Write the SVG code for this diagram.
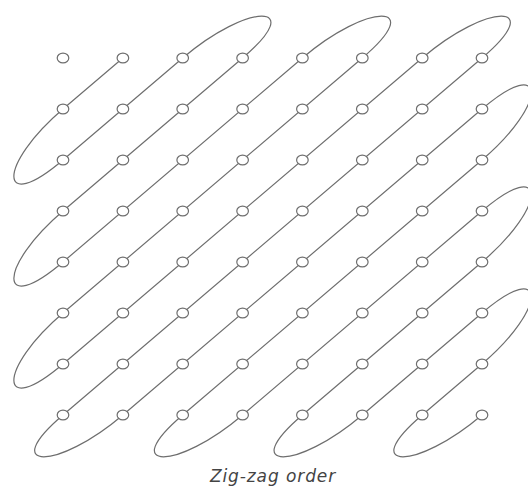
<svg xmlns="http://www.w3.org/2000/svg" width="528" height="487" viewBox="0 0 528 487">
<style>
.c{fill:none;stroke:#6e6e6e;stroke-width:1.2}
.n{fill:#fff;stroke:#6e6e6e;stroke-width:1.2}
.t{font-family:"DejaVu Sans","Open Sans",sans-serif;font-style:italic;font-size:17px;letter-spacing:0.9px;fill:#444}
</style>
<rect width="528" height="487" fill="#fff"/>
<g id="connectors" class="c">
<path d="M122.9,58 L63,109 C-2.5,164.8 -2.5,215.8 63,160 L182.7,58 C248.2,2.2 308.1,2.2 242.6,58 L63,211 C-2.5,266.8 -2.5,317.8 63,262 L302.4,58 C367.9,2.2 427.8,2.2 362.3,58 L63,313 C-2.5,368.8 -2.5,419.8 63,364 L422.2,58 C487.7,2.2 547.5,2.2 482,58 L63,415 C-2.5,470.8 57.4,470.8 122.9,415 L482,109 C547.5,53.2 547.5,104.2 482,160 L182.7,415 C117.2,470.8 177.1,470.8 242.6,415 L482,211 C547.5,155.2 547.5,206.2 482,262 L302.4,415 C236.9,470.8 296.8,470.8 362.3,415 L482,313 C547.5,257.2 547.5,308.2 482,364 L422.2,415 C356.7,470.8 416.5,470.8 482,415"/>
</g>
<g id="nodes" class="n">
<g id="r0"><ellipse cx="63" cy="58" rx="5.8" ry="4.9"/><ellipse cx="122.9" cy="58" rx="5.8" ry="4.9"/><ellipse cx="182.7" cy="58" rx="5.8" ry="4.9"/><ellipse cx="242.6" cy="58" rx="5.8" ry="4.9"/><ellipse cx="302.4" cy="58" rx="5.8" ry="4.9"/><ellipse cx="362.3" cy="58" rx="5.8" ry="4.9"/><ellipse cx="422.2" cy="58" rx="5.8" ry="4.9"/><ellipse cx="482" cy="58" rx="5.8" ry="4.9"/></g>
<g id="r1"><ellipse cx="63" cy="109" rx="5.8" ry="4.9"/><ellipse cx="122.9" cy="109" rx="5.8" ry="4.9"/><ellipse cx="182.7" cy="109" rx="5.8" ry="4.9"/><ellipse cx="242.6" cy="109" rx="5.8" ry="4.9"/><ellipse cx="302.4" cy="109" rx="5.8" ry="4.9"/><ellipse cx="362.3" cy="109" rx="5.8" ry="4.9"/><ellipse cx="422.2" cy="109" rx="5.8" ry="4.9"/><ellipse cx="482" cy="109" rx="5.8" ry="4.9"/></g>
<g id="r2"><ellipse cx="63" cy="160" rx="5.8" ry="4.9"/><ellipse cx="122.9" cy="160" rx="5.8" ry="4.9"/><ellipse cx="182.7" cy="160" rx="5.8" ry="4.9"/><ellipse cx="242.6" cy="160" rx="5.8" ry="4.9"/><ellipse cx="302.4" cy="160" rx="5.8" ry="4.9"/><ellipse cx="362.3" cy="160" rx="5.8" ry="4.9"/><ellipse cx="422.2" cy="160" rx="5.8" ry="4.9"/><ellipse cx="482" cy="160" rx="5.8" ry="4.9"/></g>
<g id="r3"><ellipse cx="63" cy="211" rx="5.8" ry="4.9"/><ellipse cx="122.9" cy="211" rx="5.8" ry="4.9"/><ellipse cx="182.7" cy="211" rx="5.8" ry="4.9"/><ellipse cx="242.6" cy="211" rx="5.8" ry="4.9"/><ellipse cx="302.4" cy="211" rx="5.8" ry="4.9"/><ellipse cx="362.3" cy="211" rx="5.8" ry="4.9"/><ellipse cx="422.2" cy="211" rx="5.8" ry="4.9"/><ellipse cx="482" cy="211" rx="5.8" ry="4.9"/></g>
<g id="r4"><ellipse cx="63" cy="262" rx="5.8" ry="4.9"/><ellipse cx="122.9" cy="262" rx="5.8" ry="4.9"/><ellipse cx="182.7" cy="262" rx="5.8" ry="4.9"/><ellipse cx="242.6" cy="262" rx="5.8" ry="4.9"/><ellipse cx="302.4" cy="262" rx="5.8" ry="4.9"/><ellipse cx="362.3" cy="262" rx="5.8" ry="4.9"/><ellipse cx="422.2" cy="262" rx="5.8" ry="4.9"/><ellipse cx="482" cy="262" rx="5.8" ry="4.9"/></g>
<g id="r5"><ellipse cx="63" cy="313" rx="5.8" ry="4.9"/><ellipse cx="122.9" cy="313" rx="5.8" ry="4.9"/><ellipse cx="182.7" cy="313" rx="5.8" ry="4.9"/><ellipse cx="242.6" cy="313" rx="5.8" ry="4.9"/><ellipse cx="302.4" cy="313" rx="5.8" ry="4.9"/><ellipse cx="362.3" cy="313" rx="5.8" ry="4.9"/><ellipse cx="422.2" cy="313" rx="5.8" ry="4.9"/><ellipse cx="482" cy="313" rx="5.8" ry="4.9"/></g>
<g id="r6"><ellipse cx="63" cy="364" rx="5.8" ry="4.9"/><ellipse cx="122.9" cy="364" rx="5.8" ry="4.9"/><ellipse cx="182.7" cy="364" rx="5.8" ry="4.9"/><ellipse cx="242.6" cy="364" rx="5.8" ry="4.9"/><ellipse cx="302.4" cy="364" rx="5.8" ry="4.9"/><ellipse cx="362.3" cy="364" rx="5.8" ry="4.9"/><ellipse cx="422.2" cy="364" rx="5.8" ry="4.9"/><ellipse cx="482" cy="364" rx="5.8" ry="4.9"/></g>
<g id="r7"><ellipse cx="63" cy="415" rx="5.8" ry="4.9"/><ellipse cx="122.9" cy="415" rx="5.8" ry="4.9"/><ellipse cx="182.7" cy="415" rx="5.8" ry="4.9"/><ellipse cx="242.6" cy="415" rx="5.8" ry="4.9"/><ellipse cx="302.4" cy="415" rx="5.8" ry="4.9"/><ellipse cx="362.3" cy="415" rx="5.8" ry="4.9"/><ellipse cx="422.2" cy="415" rx="5.8" ry="4.9"/><ellipse cx="482" cy="415" rx="5.8" ry="4.9"/></g>
</g>
<text class="t" x="273" y="482" text-anchor="middle">Zig-zag order</text>
</svg>
